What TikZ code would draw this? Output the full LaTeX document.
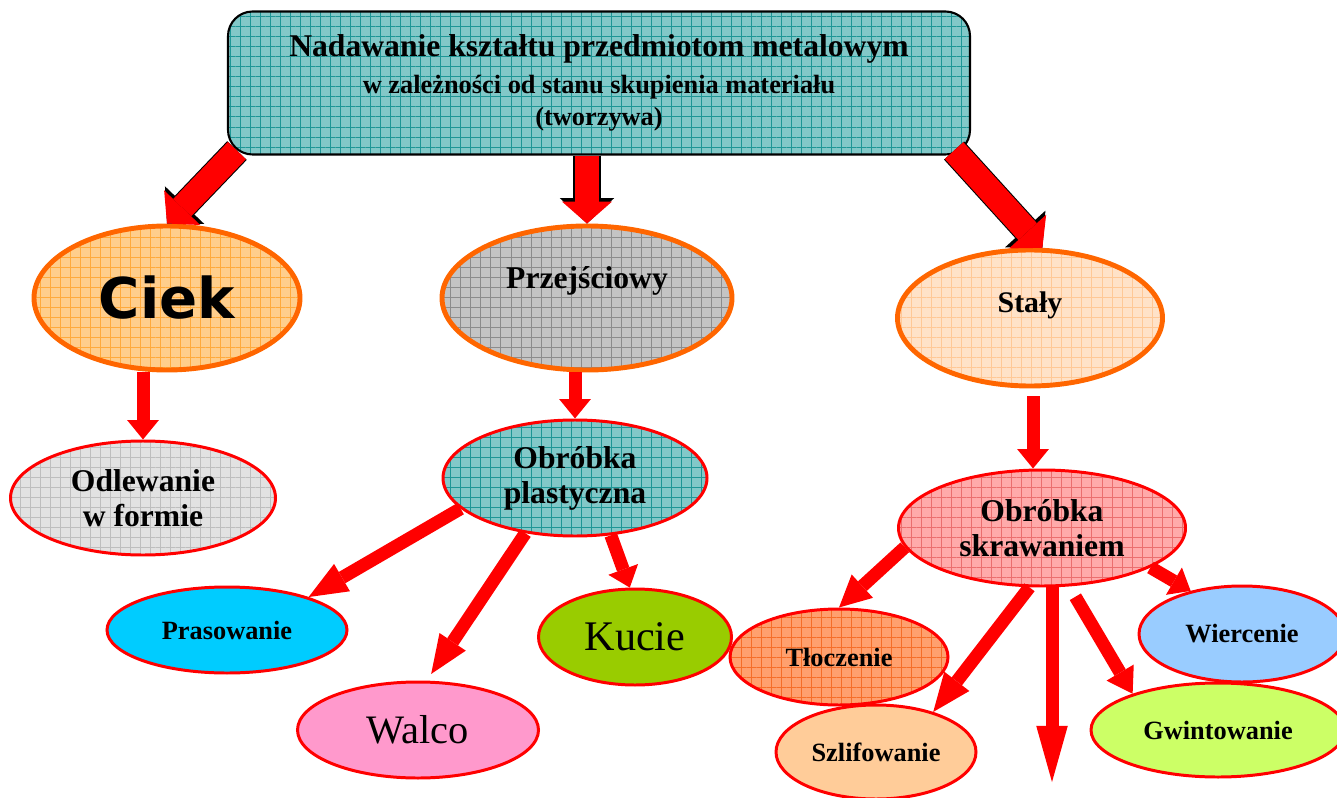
\documentclass[tikz,border=0pt]{standalone}
\usepackage{fontspec}
\setmainfont{Liberation Serif}
\newfontfamily\ciekfont{DejaVu Sans}
\usetikzlibrary{
  arrows.meta,
  calc,
  patterns.meta,
  shapes.geometric
}
\definecolor{orangeish}{RGB}{255,102,0}
\definecolor{tealish}{RGB}{130,200,200}
\definecolor{tealgrid}{RGB}{30,150,150}
\definecolor{ciekish}{RGB}{255,206,140}
\definecolor{ciekgrid}{RGB}{255,170,60}
\definecolor{greyish}{RGB}{196,196,196}
\definecolor{greygrid}{RGB}{140,140,140}
\definecolor{peachish}{RGB}{255,226,200}
\definecolor{peachgrid}{RGB}{255,200,150}
\definecolor{lightgreyish}{RGB}{226,226,226}
\definecolor{lightgreygrid}{RGB}{190,190,190}
\definecolor{pinkish}{RGB}{255,170,170}
\definecolor{pinkgrid}{RGB}{235,110,110}
\definecolor{tloish}{RGB}{255,160,110}
\definecolor{tlogrid}{RGB}{245,110,40}
\definecolor{cyanish}{RGB}{0,204,255}
\definecolor{rosish}{RGB}{255,153,204}
\definecolor{limeish}{RGB}{153,204,0}
\definecolor{apricotish}{RGB}{255,204,153}
\definecolor{skyish}{RGB}{153,204,255}
\definecolor{gwintish}{RGB}{204,255,102}
\newlength\px
\setlength\px{0.2mm}

\begin{document}
\begin{tikzpicture}[
  x=\px,
  y=-\px,
  head/.style={
    draw=black,
    line width=1.2pt,
    rounded corners=14pt,
    minimum width=742\px,
    minimum height=143\px,
    inner sep=0pt,
    align=center,
    font=\bfseries\fontsize{15}{18}\selectfont
  },
  state/.style={
    ellipse,
    draw=orangeish,
    line width=2.8pt,
    inner sep=0pt,
    font=\bfseries\fontsize{18}{20}\selectfont
  },
  kind/.style={
    ellipse,
    draw=red,
    line width=1.7pt,
    inner sep=0pt,
    align=center,
    font=\bfseries\fontsize{18}{20}\selectfont
  },
  leaf/.style={
    ellipse,
    draw=red,
    line width=1.7pt,
    inner sep=0pt,
    font=\bfseries\fontsize{15}{17}\selectfont
  },
  dims/.style 2 args={
    minimum width=#1\px,
    minimum height=#2\px
  },
  checked/.style 2 args={
    preaction={fill=#1},
    preaction={pattern={Lines[distance=5.7pt,line width=.4pt]},pattern color=#2},
    preaction={pattern={Lines[angle=90,distance=5.7pt,line width=.4pt]},pattern color=#2}
  },
  mainrim/.style={
    line width=15.4pt,
    black,
    -{Triangle[length=14.5pt,width=31pt,line width=0pt]}
  },
  mainflow/.style={
    line width=14.2pt,
    red,
    -{Triangle[length=12.5pt,width=28.5pt,line width=0pt]}
  },
  flow/.style={
    line width=7.4pt,
    red,
    -{Triangle[length=#1,width=18pt,line width=0pt]}
  },
  flow/.default=11pt
]
\useasboundingbox (0,0) rectangle (1337,798);

% Title
\node[head, checked={tealish}{tealgrid}] (top) at (599,83)
  {{\fontsize{18}{20}\selectfont Nadawanie kształtu przedmiotom metalowym}\\[3pt]
   w zależności od stanu skupienia materiału\\
   (tworzywa)};

% States
\node[state, dims={266}{144}, checked={ciekish}{ciekgrid},
  font=\ciekfont\bfseries\fontsize{32}{36}\selectfont] (ciek) at (167,298) {Ciek};
\node[state, dims={290}{144}, checked={greyish}{greygrid},
  text height=12pt, text depth=22.6pt] (prz) at (587,298) {Przejściowy};
\node[state, dims={265}{136}, checked={peachish}{peachgrid},
  font=\bfseries\fontsize{17}{20}\selectfont,
  text height=12pt, text depth=18.8pt] (staly) at (1030,318) {Stały};

% Kinds of processing
\node[kind, dims={265}{114}, checked={lightgreyish}{lightgreygrid}] (odl) at (143,498) {Odlewanie\\w formie};
\node[kind, dims={264}{116}, checked={tealish}{tealgrid}] (opl) at (575,478) {Obróbka\\plastyczna};
\node[kind, dims={287}{116}, checked={pinkish}{pinkgrid}] (osk) at (1042,528) {Obróbka\\skrawaniem};

% Methods
\node[leaf, dims={240}{86}, fill=cyanish] (pras) at (227,630) {Prasowanie};
\node[leaf, dims={241}{96}, fill=rosish, font=\fontsize{23}{26}\selectfont] (walco) at (418,730) {Walco};
\node[leaf, dims={193}{96}, fill=limeish, font=\fontsize{24}{26}\selectfont] (kucie) at (635,637) {Kucie};
\node[leaf, dims={218}{96}, checked={tloish}{tlogrid}] (tlo) at (839,657) {Tłoczenie};
\node[leaf, dims={200}{94}, fill=apricotish] (szl) at (876,752) {Szlifowanie};
\node[leaf, dims={206}{96}, fill=skyish] (wier) at (1242,634) {Wiercenie};
\node[leaf, dims={254}{94}, fill=gwintish] (gwint) at (1218,730) {Gwintowanie};

% Arrows 1
\foreach \s in {mainrim,mainflow} {
  \draw[\s] ($(top.south west)+(10,-5)$) -- (ciek.north);
  \draw[\s] (prz.north |- top.south) -- (prz.north);
  \draw[\s] ($(top.south east)+(-17,-5)$) -- (staly.80);
}

% Arrows 2
\draw[flow] (ciek.south -| odl.north) -- (odl.north);
\draw[flow] (prz.south -| opl.north) -- (opl.north);
\draw[flow, shorten <=8\px] ($(staly.south)+(3,0)$) -- ($(osk.north)+(-9,0)$);

% Arrows 3
\draw[flow=22pt] (opl.195) -- (pras.22);
\draw[flow=22pt, shorten >=8\px] (opl.228) -- (walco.80);
\draw[flow] (opl.-58) -- (kucie.96);

% Arrows 4
\coordinate (drop) at (1052,782);
\draw[flow=18pt] (osk.188) -- (tlo.north);
\draw[flow=22pt] (osk.258) -- (szl.35);
\draw[flow=32pt] (drop |- osk.south) -- (drop);
\draw[flow=14pt, shorten <=12\px] (osk.-65) -- (gwint.157);
\draw[flow] (osk.-20) -- (wier.140);

\end{tikzpicture}
\end{document}
